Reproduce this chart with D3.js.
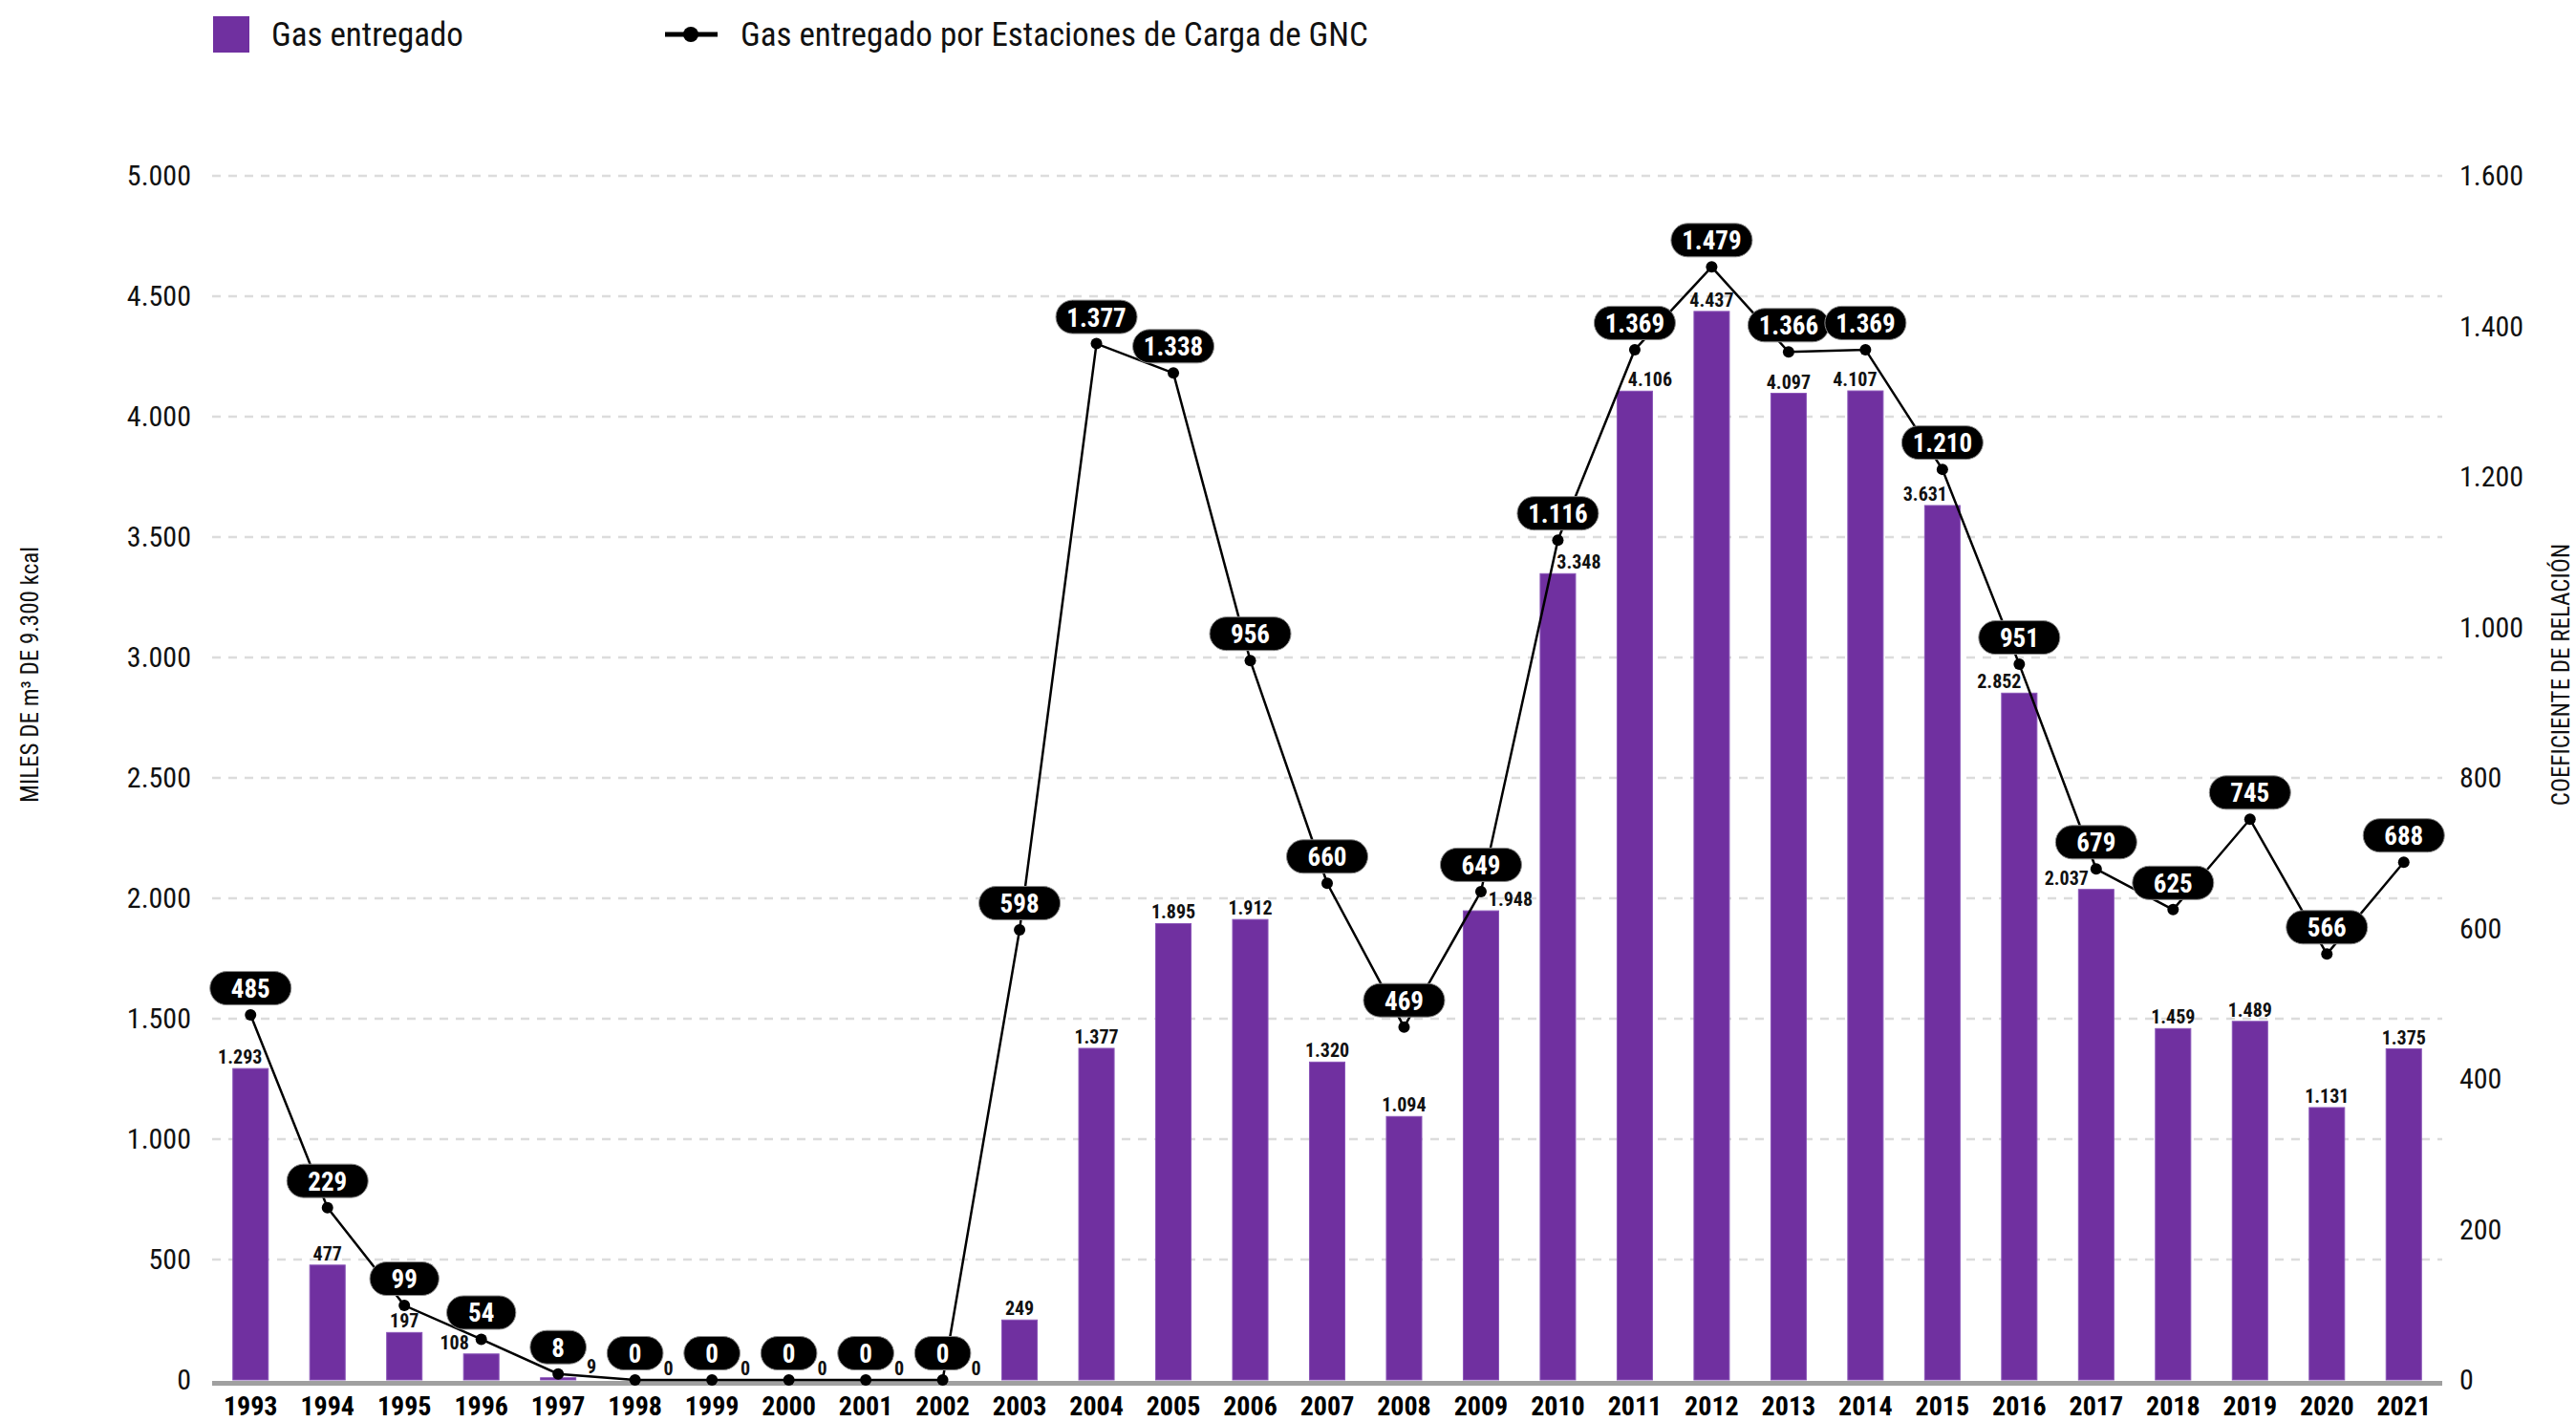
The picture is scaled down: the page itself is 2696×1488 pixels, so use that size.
<!DOCTYPE html>
<html>
<head>
<meta charset="utf-8">
<script src="https://cdn.jsdelivr.net/npm/d3@7"></script>
<style>
  html, body { margin: 0; padding: 0; background: #fff; }
  svg { display: block; }
  text { font-family: 'Roboto Condensed', 'Liberation Sans Narrow', 'DejaVu Sans Condensed', Roboto, sans-serif; }
</style>
</head>
<body>
<svg id="chart" width="2696" height="1488"></svg>
<script>
// data
const years = ["1993","1994","1995","1996","1997","1998","1999","2000","2001","2002","2003","2004","2005","2006","2007","2008","2009","2010","2011","2012","2013","2014","2015","2016","2017","2018","2019","2020","2021"]
const gasEntregado = [1293, 477, 197, 108, 9, 0, 0, 0, 0, 0, 249, 1377, 1895, 1912, 1320, 1094, 1948, 3348, 4106, 4437, 4097, 4107, 3631, 2852, 2037, 1459, 1489, 1131, 1375]
const gasGNC = [485, 229, 99, 54, 8, 0, 0, 0, 0, 0, 598, 1377, 1338, 956, 660, 469, 649, 1116, 1369, 1479, 1366, 1369, 1210, 951, 679, 625, 745, 566, 688]
const leftTicks = [0, 500, 1000, 1500, 2000, 2500, 3000, 3500, 4000, 4500, 5000]
const rightTicks = [0, 200, 400, 600, 800, 1000, 1200, 1400, 1600]
const legendLabels = ["Gas entregado", "Gas entregado por Estaciones de Carga de GNC"]
const leftTitle = "MILES DE m³ DE 9.300 kcal"
const rightTitle = "COEFICIENTE DE RELACIÓN"

const purple = "#7030a0"
const svg = d3.select("#chart")

const locale = d3.formatLocale({ decimal: ",", thousands: ".", grouping: [3], currency: ["$", ""] })
const fmt = locale.format(",d")

const plot = { left: 222, right: 2556, top: 184, bottom: 1444 }

const x = d3.scaleBand()
	.domain(years)
	.range([plot.left, plot.right])
	.paddingInner(0.54)
	.paddingOuter(0.27)

const yL = d3.scaleLinear().domain([0, 5000]).range([plot.bottom, plot.top])
const yR = d3.scaleLinear().domain([0, 1600]).range([plot.bottom, plot.top])

const xc = d => x(d) + x.bandwidth() / 2

// gridlines
svg.append("g")
	.selectAll("line")
	.data(leftTicks.filter(d => d > 0))
	.join("line")
	.attr("x1", plot.left)
	.attr("x2", plot.right)
	.attr("y1", d => yL(d))
	.attr("y2", d => yL(d))
	.attr("stroke", "#dcdcdc")
	.attr("stroke-width", 2.5)
	.attr("stroke-dasharray", "9,8")

// left axis
const axL = svg.append("g")
	.attr("transform", `translate(${plot.left},0)`)
	.call(d3.axisLeft(yL).tickValues(leftTicks).tickFormat(fmt).tickSize(0).tickPadding(22))
axL.select(".domain").remove()
axL.selectAll("text").style("font-size", "30px").attr("fill", "#111")

// right axis
const axR = svg.append("g")
	.attr("transform", `translate(${plot.right},0)`)
	.call(d3.axisRight(yR).tickValues(rightTicks).tickFormat(fmt).tickSize(0).tickPadding(18))
axR.select(".domain").remove()
axR.selectAll("text").style("font-size", "30px").attr("fill", "#111")

// bars
svg.append("g")
	.selectAll("rect")
	.data(gasEntregado)
	.join("rect")
	.attr("x", (d, i) => x(years[i]))
	.attr("y", d => yL(d))
	.attr("width", x.bandwidth())
	.attr("height", d => plot.bottom - yL(d))
	.attr("fill", purple)
	.attr("stroke", "#8a55b8")
	.attr("stroke-width", 1)

// baseline
svg.append("line")
	.attr("x1", plot.left)
	.attr("x2", plot.right)
	.attr("y1", plot.bottom + 3.5)
	.attr("y2", plot.bottom + 3.5)
	.attr("stroke", "#a0a0a0")
	.attr("stroke-width", 5)

// year labels
svg.append("g")
	.selectAll("text")
	.data(years)
	.join("text")
	.attr("x", d => xc(d))
	.attr("y", 1481)
	.attr("text-anchor", "middle")
	.style("font-size", "28px")
	.style("font-weight", "bold")
	.attr("fill", "#000")
	.text(d => d)

// line
const pts = gasGNC.map((d, i) => [xc(years[i]), yR(d)])

svg.append("path")
	.datum(gasGNC)
	.attr("d", d3.line().x((d, i) => xc(years[i])).y(d => yR(d)))
	.attr("fill", "none")
	.attr("stroke", "#000")
	.attr("stroke-width", 2.5)

svg.append("g")
	.selectAll("circle")
	.data(gasGNC)
	.join("circle")
	.attr("cx", (d, i) => xc(years[i]))
	.attr("cy", d => yR(d))
	.attr("r", 6)
	.attr("fill", "#000")

// pill labels for the line
const pillH = 35
const pillG = svg.append("g")
const pills = []
gasGNC.forEach((d, i) => {
	const cx = xc(years[i])
	const cy = yR(d) - 28
	const g = pillG.append("g")
	const rect = g.append("rect")
	const t = g.append("text")
		.attr("x", cx)
		.attr("y", cy + 10)
		.attr("text-anchor", "middle")
		.style("font-size", "27px")
		.style("font-weight", "bold")
		.attr("fill", "#fff")
		.text(fmt(d))
	const tw = t.node().getComputedTextLength()
	const w = Math.max(57, Math.min(85, tw + 45))
	rect.attr("x", cx - w / 2)
		.attr("y", cy - pillH / 2)
		.attr("width", w)
		.attr("height", pillH)
		.attr("rx", pillH / 2)
		.attr("fill", "#000")
		.attr("stroke", "#8c8c8c")
		.attr("stroke-width", 1)
	pills.push({ x0: cx - w / 2, x1: cx + w / 2, y0: cy - pillH / 2, y1: cy + pillH / 2 })
})

// collision check for the bar labels against the line, its dots and pills
const hitsLine = (b, m) => {
	for (let k = 0; k < pts.length - 1; k++) {
		const [ax, ay] = pts[k], [bx, by] = pts[k + 1]
		const len = Math.hypot(bx - ax, by - ay)
		const n = Math.max(2, Math.ceil(len))
		for (let s = 0; s <= n; s++) {
			const px = ax + (bx - ax) * s / n
			const py = ay + (by - ay) * s / n
			if (px > b.x0 - m && px < b.x1 + m && py > b.y0 - m && py < b.y1 + m) return true
		}
	}
	for (const [px, py] of pts) {
		if (px > b.x0 - 7 && px < b.x1 + 7 && py > b.y0 - 7 && py < b.y1 + 7) return true
	}
	for (const p of pills) {
		if (p.x0 < b.x1 && p.x1 > b.x0 && p.y0 < b.y1 && p.y1 > b.y0) return true
	}
	return false
}

const barFs = 20
const barLabelG = svg.append("g")
gasEntregado.forEach((d, i) => {
	const cx = xc(years[i])
	const base = yL(d) - 5
	const t = barLabelG.append("text")
		.attr("y", base)
		.attr("text-anchor", "middle")
		.style("font-size", barFs + "px")
		.style("font-weight", "bold")
		.attr("fill", "#111")
		.text(fmt(d))
	const tw = t.node().getComputedTextLength()
	const boxAt = sx => ({ x0: cx + sx - tw / 2, x1: cx + sx + tw / 2, y0: base - barFs * 0.7, y1: base })
	let shift = 0
	if (hitsLine(boxAt(0), 1)) {
		for (let s = 1; s < 90; s++) {
			if (!hitsLine(boxAt(s), 1.5)) { shift = s; break }
			if (!hitsLine(boxAt(-s), 1.5)) { shift = -s; break }
		}
	}
	t.attr("x", cx + shift)
})

// axis titles
svg.append("text")
	.attr("transform", "translate(40,706) rotate(-90)")
	.attr("text-anchor", "middle")
	.style("font-size", "25px")
	.attr("fill", "#111")
	.text(leftTitle)

svg.append("text")
	.attr("transform", "translate(2689,706) rotate(-90)")
	.attr("text-anchor", "middle")
	.style("font-size", "25px")
	.attr("fill", "#111")
	.text(rightTitle)

// legend
const lg = svg.append("g")
lg.append("rect")
	.attr("x", 223).attr("y", 17)
	.attr("width", 38).attr("height", 38)
	.attr("fill", purple)
lg.append("text")
	.attr("x", 284).attr("y", 48)
	.style("font-size", "35px")
	.attr("fill", "#111")
	.text(legendLabels[0])
lg.append("line")
	.attr("x1", 696).attr("x2", 751)
	.attr("y1", 36).attr("y2", 36)
	.attr("stroke", "#000")
	.attr("stroke-width", 5)
lg.append("circle")
	.attr("cx", 723).attr("cy", 36).attr("r", 8)
	.attr("fill", "#000")
lg.append("text")
	.attr("x", 775).attr("y", 48)
	.style("font-size", "35px")
	.attr("fill", "#111")
	.text(legendLabels[1])
</script>
</body>
</html>
